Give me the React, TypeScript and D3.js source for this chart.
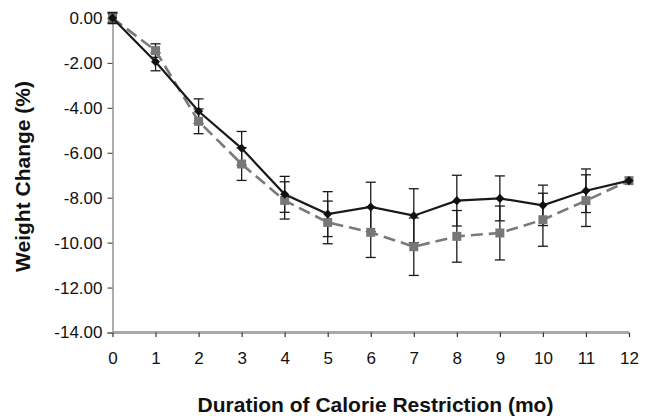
import React, { useEffect, useRef } from "react";
import * as d3 from "d3";

// months of calorie restriction
const months = [0, 1, 2, 3, 4, 5, 6, 7, 8, 9, 10, 11, 12];

// solid black series (diamonds)
const solidMean = [0, -1.95, -4.15, -5.8, -7.85, -8.73, -8.41, -8.8, -8.13, -8.03, -8.34, -7.69, -7.24];
const solidErr = [0.2, 0.4, 0.55, 0.75, 0.8, 1.0, 1.1, 1.2, 1.13, 1.0, 0.9, 0.97, 0];

// dashed gray series (squares)
const dashedMean = [0, -1.45, -4.6, -6.5, -8.12, -9.1, -9.54, -10.18, -9.72, -9.57, -8.98, -8.13, -7.24];
const dashedErr = [0.25, 0.3, 0.55, 0.73, 0.83, 0.95, 1.12, 1.28, 1.15, 1.2, 1.18, 1.15, 0];

const yTicks = [0, -2, -4, -6, -8, -10, -12, -14];

const W = 651;
const H = 416;
const M = { left: 112.5, right: 22, top: 18, bottom: 83.5 };

function App() {
  const svgRef: any = useRef(null);

  useEffect(() => {
    draw();
  }, []);

  const draw = () => {
    const svg = d3.select(svgRef.current);
    svg.selectAll("*").remove();

    const x = d3.scaleLinear().domain([0, 12]).range([M.left, W - M.right]);
    const y = d3.scaleLinear().domain([0, -14]).range([M.top, H - M.bottom]);

    const font = "Arial, 'Liberation Sans', Helvetica, sans-serif";

    // y axis
    const yAxis = svg
      .append("g")
      .attr("transform", `translate(${M.left},0)`)
      .call(
        d3
          .axisLeft(y)
          .tickValues(yTicks)
          .tickSize(5)
          .tickPadding(5)
          .tickFormat((d: any) => d3.format(".2f")(d).replace("\u2212", "-"))
      );
    yAxis.select(".domain").attr("stroke", "#9a9a9a").attr("stroke-width", 1.6);
    yAxis.selectAll(".tick line").attr("stroke", "#555").attr("stroke-width", 1.2);
    yAxis
      .selectAll(".tick text")
      .attr("fill", "#111")
      .style("font-family", font)
      .style("font-size", "17px");

    // x axis
    const xAxis = svg
      .append("g")
      .attr("transform", `translate(0,${y(-14)})`)
      .call(d3.axisBottom(x).tickValues(months).tickSize(4.5).tickPadding(14.5));
    xAxis
      .select(".domain")
      .attr("stroke", "#a8a8a8")
      .attr("stroke-width", 3)
      .attr("d", `M${M.left},0H${x(12)}`);
    xAxis.selectAll(".tick line").attr("stroke", "#333").attr("stroke-width", 1.2);
    xAxis
      .selectAll(".tick text")
      .attr("fill", "#111")
      .style("font-family", font)
      .style("font-size", "17px");

    // axis titles
    svg
      .append("text")
      .attr("x", 375.5)
      .attr("y", 412)
      .attr("text-anchor", "middle")
      .attr("fill", "#111")
      .style("font-family", font)
      .style("font-size", "21px")
      .style("font-weight", "bold")
      .text("Duration of Calorie Restriction (mo)");

    svg
      .append("text")
      .attr("transform", `translate(30,176.5) rotate(-90)`)
      .attr("text-anchor", "middle")
      .attr("fill", "#111")
      .style("font-family", font)
      .style("font-size", "21px")
      .style("font-weight", "bold")
      .text("Weight Change (%)");

    const line = d3
      .line<number>()
      .x((d, i) => x(months[i]))
      .y((d) => y(d));

    // error bars
    const drawErr = (means: number[], errs: number[]) => {
      const g = svg.append("g").attr("stroke", "#1a1a1a").attr("stroke-width", 1.3);
      months.forEach((m, i) => {
        if (!errs[i]) return;
        const top = y(means[i] + errs[i]);
        const bot = y(means[i] - errs[i]);
        g.append("line").attr("x1", x(m)).attr("x2", x(m)).attr("y1", top).attr("y2", bot);
        g.append("line").attr("x1", x(m) - 5).attr("x2", x(m) + 5).attr("y1", top).attr("y2", top);
        g.append("line").attr("x1", x(m) - 5).attr("x2", x(m) + 5).attr("y1", bot).attr("y2", bot);
      });
    };
    drawErr(dashedMean, dashedErr);
    drawErr(solidMean, solidErr);

    // dashed gray series
    svg
      .append("path")
      .datum(dashedMean)
      .attr("fill", "none")
      .attr("stroke", "#7a7a7a")
      .attr("stroke-width", 2.6)
      .attr("stroke-dasharray", "12,6")
      .attr("d", line);

    svg
      .append("g")
      .selectAll("rect")
      .data(dashedMean)
      .enter()
      .append("rect")
      .attr("x", (d, i) => x(months[i]) - 4.5)
      .attr("y", (d) => y(d) - 4.5)
      .attr("width", 9)
      .attr("height", 9)
      .attr("fill", "#777");

    // solid black series
    svg
      .append("path")
      .datum(solidMean)
      .attr("fill", "none")
      .attr("stroke", "#1a1a1a")
      .attr("stroke-width", 2.2)
      .attr("d", line);

    svg
      .append("g")
      .selectAll("path")
      .data(solidMean)
      .enter()
      .append("path")
      .attr("transform", (d, i) => `translate(${x(months[i])},${y(d)}) rotate(45)`)
      .attr("d", "M-3.2,-3.2H3.2V3.2H-3.2Z")
      .attr("fill", "#111");
  };

  return (
    <svg
      ref={svgRef}
      width={W}
      height={H}
      style={{ position: "absolute", left: 0, top: 0, background: "#fff" }}
    />
  );
}

export default App;
